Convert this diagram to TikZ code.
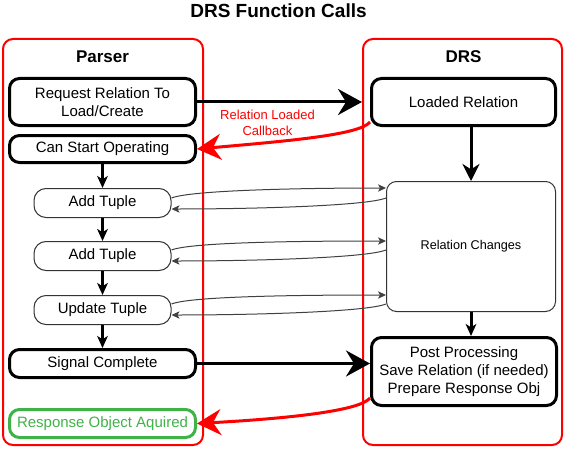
\documentclass[tikz,border=0pt]{standalone}
\usepackage{fontspec}
\setmainfont{Liberation Sans}
\usetikzlibrary{arrows.meta,calc}
\definecolor{okgreen}{RGB}{64,178,72}
\tikzset{
  lane/.style={draw=red, line width=1.5pt, rounded corners=7.5pt},
  lanetitle/.style={font=\bfseries\fontsize{12.75}{15}\selectfont},
  mainbox/.style={draw, line width=2.25pt, rounded corners=7.5pt, align=center, inner sep=0pt,
    minimum width=139.5pt, font=\fontsize{11.25}{13.5}\selectfont},
  tuplebox/.style={draw=black!80, line width=0.75pt, rounded corners=9pt, inner sep=0pt,
    minimum width=102.75pt, minimum height=21.75pt, font=\fontsize{11.25}{13.5}\selectfont},
  bigarrow/.style={line width=2.25pt, -{Stealth[length=18pt,width=19.5pt,inset=6pt]}},
  smallarrow/.style={line width=2.25pt, -{Stealth[length=9pt,width=8pt,inset=2.5pt]}},
  thinarrow/.style={draw=black!75, line width=0.75pt, -{Stealth[length=6pt,width=5.5pt,inset=1.5pt]}}
}
\begin{document}
\begin{tikzpicture}[x=0.75pt, y=-0.75pt]
  \useasboundingbox (0,0) rectangle (566,449);
  % title and lanes
  \node[font=\bfseries\fontsize{14.25}{17}\selectfont] (title) at (278.5,11) {DRS Function Calls};
  \draw[lane] (3,39) rectangle (203,445);
  \draw[lane] (363,39) rectangle (562,445);
  \node[lanetitle] (parsertitle) at (102.5,57) {Parser};
  \node[lanetitle] (drstitle) at (463.5,57) {DRS};

  % parser side
  \node[mainbox, minimum height=35.25pt] (request) at (102.5,102) {Request Relation To\\Load/Create};
  \node[mainbox, minimum height=20.25pt] (canstart) at (102.5,149) {Can Start Operating};
  \node[tuplebox] (tupleA) at (102.5,203) {Add Tuple};
  \node[tuplebox] (tupleB) at (102.5,256) {Add Tuple};
  \node[tuplebox] (tupleC) at (102.5,310) {Update Tuple};
  \node[mainbox, minimum height=21pt] (signal) at (102.5,363.5) {Signal Complete};
  \node[mainbox, draw=okgreen, text=okgreen, minimum height=21pt] (response) at (102.5,423.5) {Response Object Aquired};

  % drs side
  \node[mainbox, minimum width=138pt, minimum height=35.25pt] (loaded) at (463.5,102) {Loaded Relation};
  \node[draw=black!80, line width=0.75pt, rounded corners=7.5pt, minimum width=126.75pt, minimum height=97.5pt,
    font=\fontsize{9.5}{11}\selectfont] (changes) at (471,246.5) {Relation Changes};
  \node[mainbox, minimum width=138.75pt, minimum height=51pt] (post) at (464,371.5)
    {Post Processing\\Save Relation (if needed)\\Prepare Response Obj};

  % flow inside parser
  \draw[smallarrow] (canstart) -- (tupleA);
  \draw[smallarrow] (tupleA) -- (tupleB);
  \draw[smallarrow] (tupleB) -- (tupleC);
  \draw[smallarrow] (tupleC) -- (signal);

  % flow inside drs
  \draw[line width=2.25pt, -{Stealth[length=12.75pt,width=12.75pt,inset=4pt]}] (loaded.south -| changes.north) -- (changes.north);
  \draw[smallarrow] (changes.south) -- (changes.south |- post.north);

  % calls between lanes
  \draw[bigarrow, shorten >=6pt] (request.east) -- (request.east -| loaded.west);
  \draw[bigarrow] (signal.east) -- (signal.east -| post.west);
  \draw[bigarrow, red] ($(loaded.south west)+(0,-5)$) .. controls +(-10,13) and +(90,-8) .. (canstart.east);
  \node[red, align=center, font=\fontsize{9.75}{12}\selectfont] (callback) at (267.5,123) {Relation Loaded\\Callback};
  \draw[bigarrow, red] ($(post.south west)+(0,-9)$) .. controls +(-10,13) and +(90,-5) .. (response.east);

  % tuple changes
  \draw[thinarrow] ($(tupleA.east)+(0,-5)$) .. controls +(20,-8) and +(-80,0) .. ($(changes.north west)+(0,7)$);
  \draw[thinarrow] ($(changes.north west)+(0,17)$) .. controls +(-20,8) and +(80,0) .. ($(tupleA.east)+(0,6)$);
  \draw[thinarrow] ($(tupleB.east)+(0,-6)$) .. controls +(20,-8) and +(-80,0) .. ($(changes.north west)+(0,60)$);
  \draw[thinarrow] ($(changes.north west)+(0,69)$) .. controls +(-20,8) and +(80,0) .. ($(tupleB.east)+(0,5)$);
  \draw[thinarrow] ($(tupleC.east)+(0,-6)$) .. controls +(20,-8) and +(-80,0) .. ($(changes.north west)+(0,114)$);
  \draw[thinarrow] ($(changes.north west)+(0,123)$) .. controls +(-20,8) and +(80,0) .. ($(tupleC.east)+(0,5)$);
\end{tikzpicture}
\end{document}
